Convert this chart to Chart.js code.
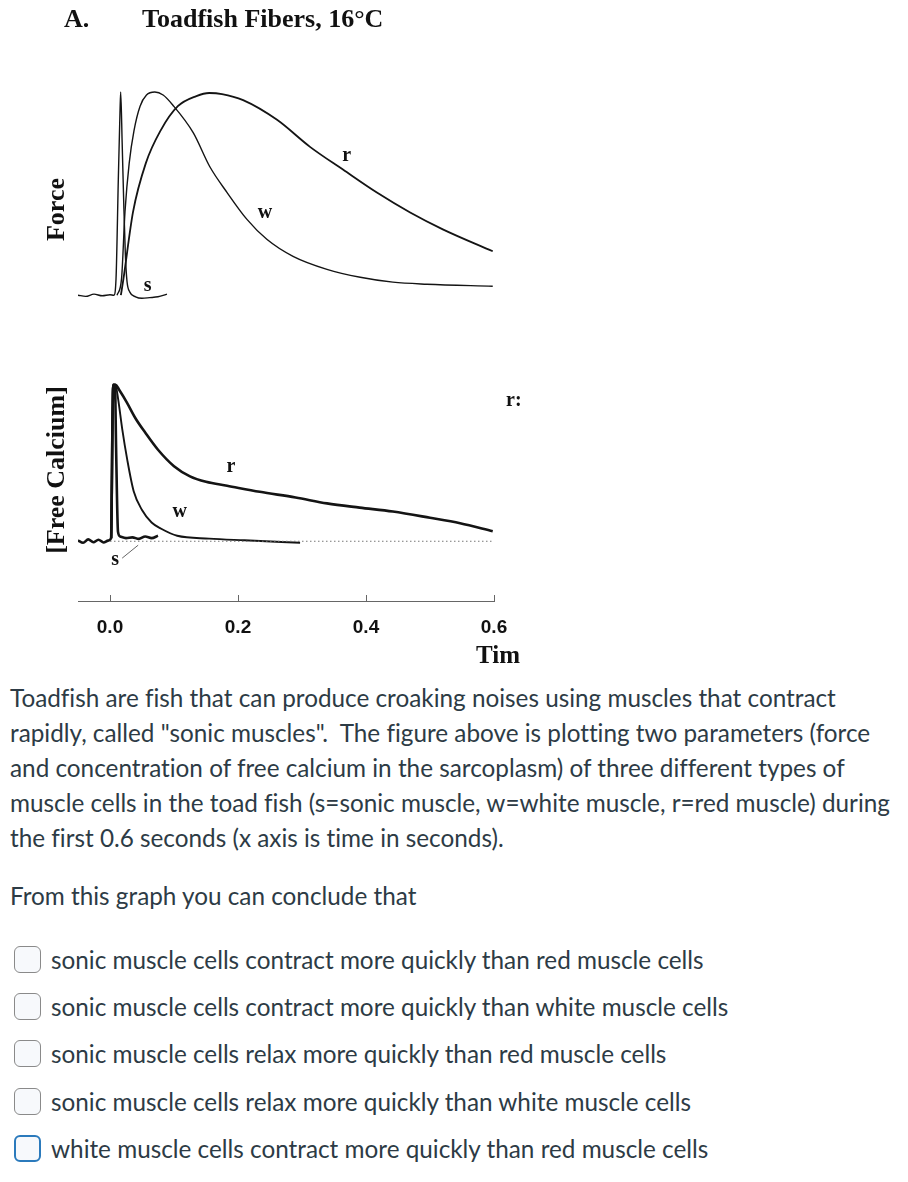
<!DOCTYPE html>
<html>
<head>
<meta charset="utf-8">
<script src="https://cdn.jsdelivr.net/npm/chart.js@4.4.1/dist/chart.umd.min.js"></script>
<style>
  body { margin: 0; background: #fff; width: 908px; height: 1182px; position: relative; overflow: hidden; }
  #fig { position: absolute; left: 0; top: 0; }
  .q { position: absolute; left: 10px; font-family: Lato, "Open Sans", sans-serif; font-size: 24.3px; line-height: 35px; color: #2d3b45; margin: 0; white-space: nowrap; font-variant-ligatures: none; }
  .opt { position: absolute; left: 0; height: 47px; display: flex; align-items: center; font-family: Lato, sans-serif; font-size: 24.3px; color: #2d3b45; white-space: nowrap; font-variant-ligatures: none; }
  .box { width: 25px; height: 25px; margin-left: 14px; margin-right: 10px; border: 1.5px solid #8a8a8a; border-radius: 6px; background: #f7f9fc; box-sizing: content-box; }
  .box.focus { border: 2.5px solid #2b7abc; width: 23px; height: 23px; }
</style>
</head>
<body>
<canvas id="fig" width="908" height="680"></canvas>

<p class="q" style="top:680px;">Toadfish are fish that can produce croaking noises using muscles that contract<br>rapidly, called "sonic muscles".&nbsp; The figure above is plotting two parameters (force<br>and concentration of free calcium in the sarcoplasm) of three different types of<br>muscle cells in the toad fish (s=sonic muscle, w=white muscle, r=red muscle) during<br>the first 0.6 seconds (x axis is time in seconds).</p>
<p class="q" style="top:878px;">From this graph you can conclude that</p>

<div id="options"></div>

<script>
// time axis (seconds)
const timeTicks = [0, 0.2, 0.4, 0.6];

// Force traces (normalised)
const forceSTime = [-0.05, -0.038, -0.025, -0.012, 0.0, 0.006, 0.0094, 0.013, 0.0156, 0.0167, 0.019, 0.0215, 0.024, 0.0265, 0.031, 0.04, 0.05, 0.062, 0.075, 0.089];
const forceS = [0, -0.006, 0.005, -0.003, 0.002, 0, 0.08, 0.57, 0.9, 1.0, 0.75, 0.45, 0.2, 0.07, 0.015, -0.008, -0.015, -0.012, -0.008, 0.005];

const forceWTime = [0.011, 0.018, 0.0234, 0.030, 0.0375, 0.047, 0.057, 0.070, 0.083, 0.098, 0.130, 0.156, 0.183, 0.214, 0.245, 0.286, 0.339, 0.391, 0.442, 0.495, 0.598];
const forceW = [0, 0.08, 0.41, 0.65, 0.81, 0.93, 0.985, 1.0, 0.985, 0.936, 0.80, 0.632, 0.505, 0.373, 0.275, 0.191, 0.127, 0.088, 0.064, 0.054, 0.044];

const forceRTime = [0.017, 0.021, 0.036, 0.056, 0.079, 0.106, 0.135, 0.155, 0.175, 0.208, 0.261, 0.3125, 0.364, 0.417, 0.469, 0.520, 0.598];
const forceR = [0, 0.08, 0.41, 0.65, 0.81, 0.93, 0.98, 0.995, 0.99, 0.96, 0.863, 0.73, 0.618, 0.505, 0.407, 0.324, 0.216];

// Free calcium traces
const calSTime = [-0.05, -0.042, -0.034, -0.026, -0.018, -0.01, -0.003, 0.0016, 0.005, 0.0078, 0.0095, 0.0125, 0.016, 0.025, 0.035, 0.045, 0.055, 0.065, 0.075];
const calS = [0.005, -0.01, 0.012, -0.006, 0.01, -0.008, 0.004, 0.02, 1.0, 1.0, 0.6, 0.06, 0.03, 0.02, 0.025, 0.015, 0.03, 0.02, 0.035];

const calWTime = [0.002, 0.005, 0.0085, 0.013, 0.019, 0.027, 0.037, 0.05, 0.065, 0.08, 0.105, 0.155, 0.21, 0.297];
const calW = [0.02, 1.0, 1.0, 0.9, 0.72, 0.52, 0.32, 0.20, 0.12, 0.08, 0.035, 0.017, 0.006, -0.01];

const calRTime = [0.002, 0.005, 0.009, 0.014, 0.026, 0.04, 0.055, 0.075, 0.1, 0.125, 0.15, 0.183, 0.234, 0.29, 0.339, 0.39, 0.442, 0.5, 0.547, 0.598];
const calR = [0.02, 1.0, 1.0, 0.97, 0.89, 0.785, 0.695, 0.585, 0.48, 0.415, 0.38, 0.355, 0.316, 0.28, 0.242, 0.215, 0.19, 0.15, 0.115, 0.064];

const calBaseTime = [0, 0.6];
const calBase = [0, 0];

// little pointer line next to the "s" label
const sPointerTime = [0.019, 0.044];
const sPointerCal = [-0.108, -0.025];

// curve labels [text, time, value, axis]
const curveLabels = [
    ['s', 0.059, 0.044, 'yF'],
    ['w', 0.242, 0.407, 'yF'],
    ['r', 0.370, 0.686, 'yF'],
    ['r', 0.189, 0.478, 'yC'],
    ['w', 0.109, 0.185, 'yC'],
    ['s', 0.008, -0.121, 'yC'],
    ['r:', 0.631, 0.898, 'yC']
];

const answers = [
    'sonic muscle cells contract more quickly than red muscle cells',
    'sonic muscle cells contract more quickly than white muscle cells',
    'sonic muscle cells relax more quickly than red muscle cells',
    'sonic muscle cells relax more quickly than white muscle cells',
    'white muscle cells contract more quickly than red muscle cells'
];

function pts(xs, ys) {
    return xs.map((x, i) => ({ x: x, y: ys[i] }));
}

function trace(xs, ys, axis, width) {
    return {
        data: pts(xs, ys),
        yAxisID: axis,
        borderColor: '#141414',
        borderWidth: width,
        pointRadius: 0,
        cubicInterpolationMode: 'monotone',
        fill: false
    };
}

const serif = '"Liberation Serif", "DejaVu Serif", serif';

const figureText = {
    id: 'figureText',
    afterDraw(chart) {
        const { ctx } = chart;
        const x = chart.scales.x;
        ctx.save();

        // ticks point up into the plot
        ctx.strokeStyle = '#666';
        ctx.lineWidth = 1;
        x.ticks.forEach(t => {
            const px = Math.round(x.getPixelForValue(t.value)) + 0.5;
            ctx.beginPath();
            ctx.moveTo(px, x.top);
            ctx.lineTo(px, x.top - 6);
            ctx.stroke();
        });

        ctx.fillStyle = '#111';
        ctx.font = 'bold 26px ' + serif;
        ctx.textBaseline = 'alphabetic';
        ctx.textAlign = 'left';
        ctx.fillText('A.', 64, 27);
        ctx.fillText('Toadfish Fibers, 16°C', 142, 27);

        ctx.font = 'bold 25px ' + serif;
        ctx.textAlign = 'center';
        ctx.textBaseline = 'middle';
        ctx.fillText('Tim', x.getPixelForValue(0.6) + 4, x.top + 56);

        ctx.font = 'bold 20px ' + serif;
        curveLabels.forEach(([txt, t, v, axis]) => {
            ctx.fillText(txt, x.getPixelForValue(t), chart.scales[axis].getPixelForValue(v));
        });
        ctx.restore();
    }
};

const yTitle = text => ({
    display: true,
    text: text,
    color: '#111',
    padding: { top: 4, bottom: 5.4 },
    font: { family: serif, size: 26, weight: 'bold' }
});

new Chart(document.getElementById('fig'), {
    type: 'line',
    data: {
        datasets: [
            trace(forceSTime, forceS, 'yF', 1.4),
            trace(forceWTime, forceW, 'yF', 1.4),
            trace(forceRTime, forceR, 'yF', 1.8),
            Object.assign(trace(calBaseTime, calBase, 'yC', 1.2), { borderColor: '#777', borderDash: [1.5, 2.5] }),
            trace(calSTime, calS, 'yC', 2.6),
            trace(calWTime, calW, 'yC', 1.9),
            trace(calRTime, calR, 'yC', 2.6),
            Object.assign(trace(sPointerTime, sPointerCal, 'yC', 1), { borderColor: '#666' })
        ]
    },
    options: {
        responsive: false,
        animation: false,
        devicePixelRatio: 1,
        layout: { padding: { top: 80, left: 37.4, right: 414, bottom: 26.2 } },
        plugins: { legend: { display: false }, tooltip: { enabled: false } },
        scales: {
            x: {
                type: 'linear',
                min: -0.05,
                max: 0.6,
                afterBuildTicks: scale => { scale.ticks = timeTicks.map(v => ({ value: v })); },
                grid: { display: false, drawTicks: false },
                border: { color: '#666', width: 1 },
                ticks: {
                    padding: 15,
                    color: '#111',
                    font: { family: '"Liberation Sans", Arial, sans-serif', size: 19, weight: 'bold' },
                    callback: v => v.toFixed(1)
                }
            },
            yC: {
                type: 'linear',
                position: 'left',
                stack: 'panels',
                stackWeight: 263,
                min: -0.382,
                max: 1.293,
                grid: { display: false, drawTicks: false },
                border: { display: false },
                ticks: { display: false },
                title: yTitle('[Free Calcium]')
            },
            yF: {
                type: 'linear',
                position: 'left',
                stack: 'panels',
                stackWeight: 260,
                min: -0.2157,
                max: 1.059,
                grid: { display: false, drawTicks: false },
                border: { display: false },
                ticks: { display: false },
                title: yTitle('Force')
            }
        }
    },
    plugins: [figureText]
});

// answer choices
const optionsBox = document.getElementById('options');
answers.forEach((a, i) => {
    const row = document.createElement('div');
    row.className = 'opt';
    row.style.top = (936 + i * 47.2) + 'px';
    row.innerHTML = `<span class="box${i === answers.length - 1 ? ' focus' : ''}"></span><span>${a}</span>`;
    optionsBox.appendChild(row);
});
</script>
</body>
</html>
